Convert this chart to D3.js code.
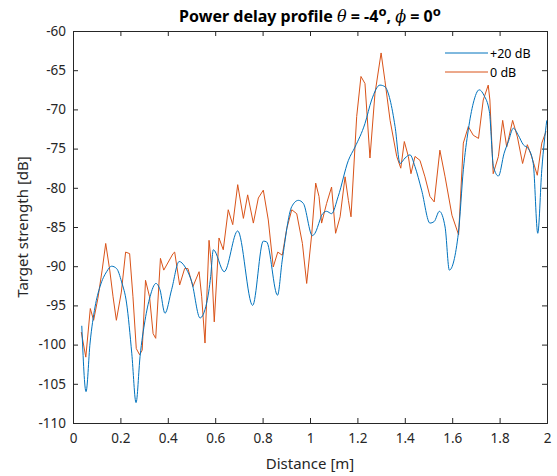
<!DOCTYPE html>
<html>
<head>
<meta charset="utf-8">
<script src="https://cdn.jsdelivr.net/npm/d3@7"></script>
<style>
  html, body { margin: 0; padding: 0; background: #fff; }
  svg { display: block; font-family: "Noto Sans", "Open Sans", sans-serif; }
</style>
</head>
<body>
<svg id="chart" width="557" height="476"></svg>
<script>
// ---- data ----
const xTicks = [0, 0.2, 0.4, 0.6, 0.8, 1, 1.2, 1.4, 1.6, 1.8, 2];
const yTicks = [-110, -105, -100, -95, -90, -85, -80, -75, -70, -65, -60];
const seriesNames = ["+20 dB", "0 dB"];

const blueDist = [0.037,0.055,0.072,0.093,0.114,0.142,0.163,0.184,0.205,0.226,0.248,0.266,0.283,0.304,0.325,0.350,0.367,0.388,0.416,0.448,0.473,0.501,0.536,0.564,0.581,0.592,0.638,0.695,0.758,0.803,0.817,0.863,0.883,0.923,0.951,0.972,1.010,1.021,1.042,1.049,1.070,1.091,1.119,1.162,1.190,1.232,1.260,1.295,1.316,1.338,1.359,1.380,1.401,1.422,1.443,1.471,1.506,1.524,1.546,1.570,1.588,1.626,1.647,1.668,1.689,1.714,1.734,1.757,1.774,1.795,1.819,1.837,1.858,1.879,1.900,1.921,1.942,1.961,1.978,1.999];
const blueVals = [-97.6,-106.0,-99.8,-95.2,-92.6,-90.7,-90.0,-90.3,-92.0,-94.7,-101.1,-107.4,-101.5,-96.9,-93.9,-92.2,-93.0,-96.0,-93.0,-89.4,-90.1,-92.0,-96.6,-94.7,-91.3,-87.9,-90.7,-85.5,-95.0,-86.8,-86.9,-93.7,-89.2,-82.4,-81.6,-82.0,-86.1,-85.8,-84.1,-83.5,-83.0,-83.3,-81.1,-76.5,-74.8,-71.8,-68.8,-66.9,-67.1,-68.8,-72.2,-76.9,-76.2,-75.8,-77.3,-80.3,-84.5,-84.3,-83.0,-85.0,-90.5,-85.8,-77.7,-72.6,-69.2,-67.5,-68.2,-70.3,-77.3,-78.5,-75.6,-74.1,-72.4,-73.3,-74.5,-75.0,-76.9,-85.8,-77.7,-71.4];

const orangeDist = [0.035,0.054,0.073,0.087,0.105,0.123,0.138,0.155,0.169,0.183,0.204,0.222,0.239,0.253,0.267,0.281,0.292,0.306,0.323,0.338,0.349,0.369,0.383,0.422,0.429,0.450,0.471,0.485,0.506,0.532,0.543,0.557,0.574,0.585,0.596,0.616,0.634,0.655,0.674,0.695,0.719,0.737,0.761,0.782,0.803,0.824,0.845,0.864,0.883,0.902,0.923,0.944,0.968,0.986,1.007,1.024,1.038,1.049,1.070,1.091,1.108,1.127,1.148,1.162,1.173,1.197,1.215,1.232,1.253,1.274,1.300,1.316,1.338,1.366,1.383,1.398,1.415,1.426,1.443,1.464,1.485,1.506,1.524,1.548,1.570,1.599,1.627,1.647,1.668,1.689,1.711,1.731,1.752,1.759,1.773,1.795,1.813,1.830,1.855,1.875,1.897,1.917,1.935,1.959,1.978,1.996];
const orangeVals = [-98.4,-101.6,-95.4,-96.9,-94.1,-90.5,-87.1,-90.5,-93.9,-96.9,-93.3,-88.2,-88.4,-93.9,-100.5,-101.3,-100.7,-91.8,-93.9,-98.6,-99.2,-89.0,-90.5,-88.4,-88.2,-92.4,-90.3,-90.3,-92.6,-90.7,-93.9,-99.8,-86.7,-90.1,-97.1,-86.4,-87.9,-82.8,-84.7,-79.6,-83.9,-80.9,-84.5,-81.3,-80.3,-84.1,-90.1,-88.2,-88.6,-85.2,-82.8,-83.3,-87.1,-92.2,-86.0,-79.4,-81.1,-84.5,-82.0,-79.9,-85.8,-83.7,-78.6,-81.6,-83.7,-70.9,-65.8,-66.7,-76.2,-68.0,-62.8,-66.3,-71.4,-76.0,-77.5,-74.1,-76.0,-78.2,-76.0,-76.5,-78.6,-81.1,-81.8,-75.2,-78.6,-83.5,-86.0,-74.3,-72.2,-73.3,-73.7,-68.8,-66.9,-68.8,-78.2,-76.0,-71.4,-74.8,-71.4,-73.5,-76.9,-74.5,-76.0,-78.4,-74.3,-72.8];

const colors = ["#0072BD", "#D95319"];

// ---- layout ----
const svg = d3.select("#chart");
const m = { left: 73, right: 547, top: 31, bottom: 423 };
const x = d3.scaleLinear().domain([0, 2]).range([m.left, m.right]);
const y = d3.scaleLinear().domain([-110, -60]).range([m.bottom, m.top]);
const axisColor = "#262626";
const tickLen = 5;
const tickFont = 13.5;

// axes
const gx = svg.append("g").attr("transform", `translate(0,${m.bottom})`)
  .call(d3.axisBottom(x).tickValues(xTicks).tickSize(-tickLen).tickPadding(10)
        .tickFormat(d => d3.format("")(d)));
const gxTop = svg.append("g").attr("transform", `translate(0,${m.top})`)
  .call(d3.axisTop(x).tickValues(xTicks).tickSize(-tickLen).tickFormat(""));
const gy = svg.append("g").attr("transform", `translate(${m.left},0)`)
  .call(d3.axisLeft(y).tickValues(yTicks).tickSize(-tickLen).tickPadding(7));
const gyR = svg.append("g").attr("transform", `translate(${m.right},0)`)
  .call(d3.axisRight(y).tickValues(yTicks).tickSize(-tickLen).tickFormat(""));

[gx, gxTop, gy, gyR].forEach(g => {
  g.select(".domain").attr("stroke", axisColor).attr("stroke-width", 1);
  g.selectAll(".tick line").attr("stroke", axisColor);
  g.selectAll(".tick text").attr("fill", axisColor).attr("font-size", tickFont)
    .attr("font-family", "'Noto Sans', 'Open Sans', sans-serif");
});
gy.selectAll(".tick text").text(d => String(d));

// lines
const lineJag = d3.line().x(d => x(d[0])).y(d => y(d[1]));
const lineSmooth = d3.line().x(d => x(d[0])).y(d => y(d[1])).curve(d3.curveMonotoneX);
const blue = blueDist.map((d, i) => [d, blueVals[i]]);
const orange = orangeDist.map((d, i) => [d, orangeVals[i]]);

svg.append("path").datum(orange).attr("d", lineJag)
  .attr("fill", "none").attr("stroke", colors[1]).attr("stroke-width", 1);
svg.append("path").datum(blue).attr("d", lineSmooth)
  .attr("fill", "none").attr("stroke", colors[0]).attr("stroke-width", 1);

// legend
const leg = svg.append("g");
seriesNames.forEach((name, i) => {
  const ly = 53 + i * 19;
  leg.append("line").attr("x1", 445).attr("x2", 488).attr("y1", ly).attr("y2", ly)
    .attr("stroke", colors[i]).attr("stroke-width", 1);
  leg.append("text").attr("x", 490).attr("y", ly + 4.5).attr("font-size", 12.5)
    .attr("fill", "#000").text(name);
});

// axis labels
svg.append("text").attr("x", (m.left + m.right) / 2).attr("y", 469)
  .attr("text-anchor", "middle").attr("font-size", 15).attr("fill", axisColor)
  .text("Distance [m]");
svg.append("text").attr("transform", `translate(28,${(m.top + m.bottom) / 2}) rotate(-90)`)
  .attr("text-anchor", "middle").attr("font-size", 15).attr("fill", axisColor)
  .text("Target strength [dB]");

// title
const t = svg.append("text").attr("x", (m.left + m.right) / 2).attr("y", 22)
  .attr("text-anchor", "middle").attr("font-size", 16).attr("font-weight", "bold")
  .attr("fill", "#000");
t.append("tspan").text("Power delay profile ");
t.append("tspan").attr("font-style", "italic").attr("font-weight", "normal")
  .attr("font-family", "'DejaVu Serif', serif").text("θ");
t.append("tspan").text(" = -4");
t.append("tspan").attr("dy", -6).attr("font-size", 13).text("o");
t.append("tspan").attr("dy", 6).text(", ");
t.append("tspan").attr("font-style", "italic").attr("font-weight", "normal")
  .attr("font-family", "'DejaVu Serif', serif").text("ϕ");
t.append("tspan").text(" = 0");
t.append("tspan").attr("dy", -6).attr("font-size", 13).text("o");
</script>
</body>
</html>
